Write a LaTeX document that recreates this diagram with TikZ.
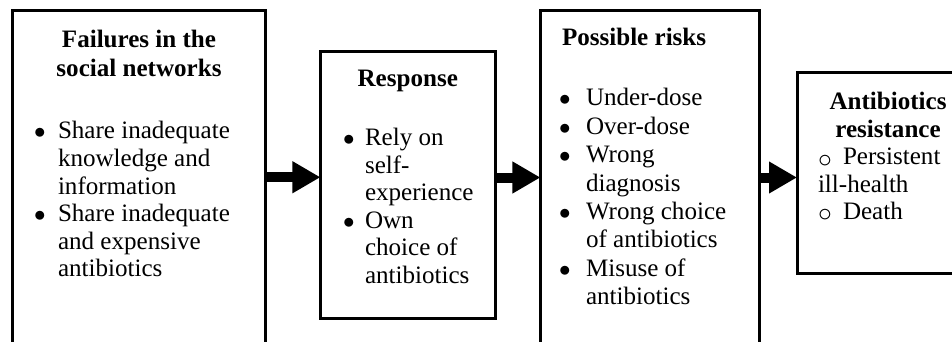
\documentclass[tikz,border=0pt]{standalone}
\usepackage{fontspec}
\setmainfont{Liberation Serif}
\usetikzlibrary{arrows.meta}
\newcommand\bul[1]{\makebox[#1][l]{$\bullet$}}
\newcommand\circbul{\makebox[18.75pt][l]{\raisebox{-1.6pt}{\scalebox{1.2}{$\circ$}}}}
\tikzset{
  box/.style={draw, rectangle, line width=2.25pt, inner sep=0pt, outer sep=0pt},
  bigarrow/.style={line width=7.5pt, -{Triangle[width=22.5pt,length=21pt]}},
  txt/.style={inner sep=0pt, outer sep=0pt, font=\fontsize{18.8pt}{#1}\selectfont},
  txt/.default=21pt,
  ttl/.style={inner sep=0pt, outer sep=0pt, font=\fontsize{18.8pt}{#1}\selectfont\bfseries},
  ttl/.default=21pt,
}
\begin{document}
\begin{tikzpicture}[x=0.75pt,y=-0.75pt]
\path[use as bounding box, clip] (0,0) rectangle (952,342);
\fill[white] (0,0) rectangle (952,342);
% boxes
\node[box, minimum width=189.75pt, minimum height=250.1pt] (b1) at (139,177.25) {};
\node[box, minimum width=130.9pt, minimum height=199.5pt] (b2) at (407.75,185) {};
\node[box, minimum width=163.9pt, minimum height=249.75pt] (b3) at (649.75,177.5) {};
\node[box, minimum width=136.5pt, minimum height=150pt] (b4) at (888,173) {};
% box 1 text
\node[ttl=21.5pt, anchor=base] (h1) at (139,48) {\begin{tabular}[t]{@{}c@{}}Failures in the\\ social networks\end{tabular}};
\node[txt=20.7pt, anchor=base west] (l1) at (34,139) {\begin{tabular}[t]{@{}l@{}}%
\bul{18pt}Share inadequate\\
\hspace*{18pt}knowledge and\\
\hspace*{18pt}information\\
\bul{18pt}Share inadequate\\
\hspace*{18pt}and expensive\\
\hspace*{18pt}antibiotics\end{tabular}};
% box 2 text
\node[ttl, anchor=base] (h2) at (407.75,87) {Response};
\node[txt=20.6pt, anchor=base west] (l2) at (343,146) {\begin{tabular}[t]{@{}l@{}}%
\bul{16.5pt}Rely on\\
\hspace*{16.5pt}self-\\
\hspace*{16.5pt}experience\\
\bul{16.5pt}Own\\
\hspace*{16.5pt}choice of\\
\hspace*{16.5pt}antibiotics\end{tabular}};
% box 3 text
\node[ttl, anchor=base west] (h3) at (562,46) {Possible risks};
\node[txt=21.3pt, anchor=base west] (l3) at (559,106) {\begin{tabular}[t]{@{}l@{}}%
\bul{20.25pt}Under-dose\\
\bul{20.25pt}Over-dose\\
\bul{20.25pt}Wrong\\
\hspace*{20.25pt}diagnosis\\
\bul{20.25pt}Wrong choice\\
\hspace*{20.25pt}of antibiotics\\
\bul{20.25pt}Misuse of\\
\hspace*{20.25pt}antibiotics\end{tabular}};
% box 4 text
\node[ttl=20.4pt, anchor=base] (h4) at (888,110) {\begin{tabular}[t]{@{}c@{}}Antibiotics\\ resistance\end{tabular}};
\node[txt=20.3pt, anchor=base west] (l4) at (818,165) {\begin{tabular}[t]{@{}l@{}}%
\circbul Persistent\\
ill-health\\
\circbul Death\end{tabular}};
% arrows
\draw[bigarrow] (b1.east) -- (b1.east -| b2.west);
\draw[bigarrow] (b3.west -| b2.east) -- (b3.west);
\draw[bigarrow] (b3.east) -- (b3.east -| b4.west);
\end{tikzpicture}
\end{document}
